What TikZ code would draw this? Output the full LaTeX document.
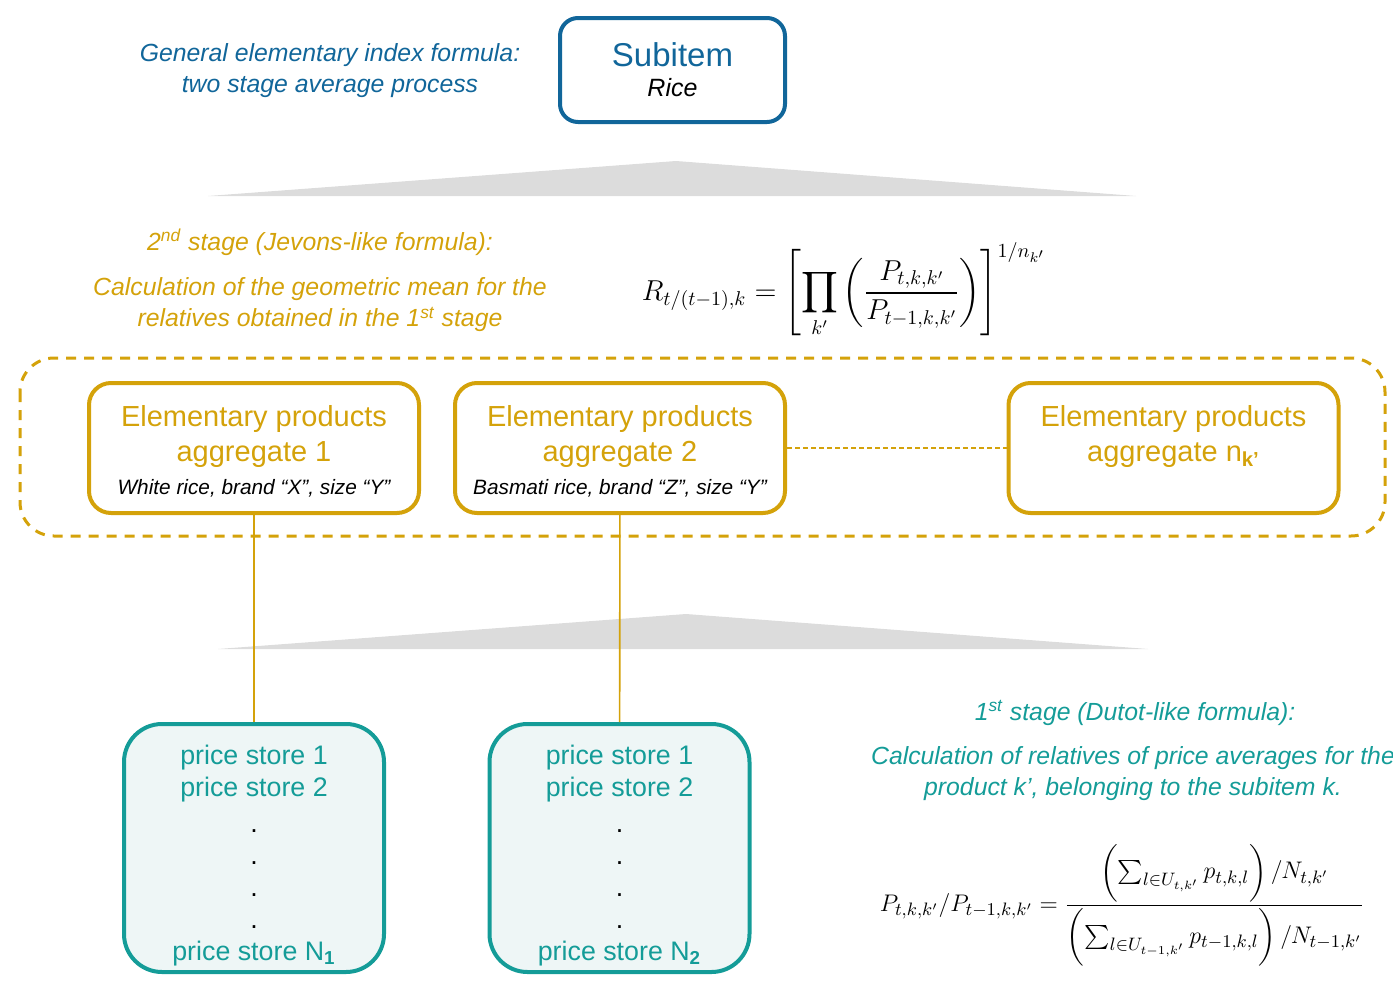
\documentclass[tikz,border=0pt]{standalone}
\usepackage[no-math]{fontspec}
\setmainfont{Liberation Sans}
\usepackage{amsmath}
\definecolor{subblue}{HTML}{11669A}
\definecolor{aggold}{HTML}{D4A20A}
\definecolor{storeteal}{HTML}{149C98}
\definecolor{storefill}{HTML}{EEF6F6}
\definecolor{wedgegray}{HTML}{DCDCDC}
\newcommand{\detailfont}{\fontsize{10.4}{12}\selectfont\itshape\color{black}}
\newcommand{\storedot}{\textcolor{black}{.}}
\tikzset{%
  subbox/.style   = {shape=rectangle, rounded corners=9pt, draw=subblue,%
                     line width=2pt, align=center, text=subblue,%
                     minimum width=112.5pt, minimum height=52pt},%
  aggbox/.style   = {shape=rectangle, rounded corners=11pt, draw=aggold,%
                     line width=2pt, align=center, text=aggold, inner sep=0pt,%
                     font=\fontsize{14.5}{17.5}\selectfont,%
                     minimum width=165pt, minimum height=65pt},%
  storebox/.style = {shape=rectangle, rounded corners=19pt, draw=storeteal,%
                     fill=storefill, line width=2pt, align=center,%
                     text=storeteal, font=\fontsize{13.4}{16}\selectfont,%
                     minimum width=130pt, minimum height=124pt},%
  note/.style     = {align=center, font=\fontsize{12.4}{15.5}\selectfont\itshape},%
  wedge/.style    = {fill=wedgegray},%
  link/.style     = {draw=aggold, line width=0.8pt}%
}

\begin{document}
\begin{tikzpicture}[x=0.5pt,y=-0.5pt,every node/.style={inner sep=2pt}]
\useasboundingbox (0,0) rectangle (1393,991);
\node[note, text=subblue] (title) at (330,71) {General elementary index formula:\\two stage average process};
\node[subbox] (subitem) at (672.5,70) {{\fontsize{16.5}{19}\selectfont Subitem}\\[3pt]{\fontsize{12.5}{15}\selectfont\itshape\color{black}Rice}};
\fill[wedge] (208,196) -- (676,161) -- (1136,196) -- cycle;
\node[note, text=aggold] (stagetwo) at (320,242) {2\textsuperscript{nd} stage (Jevons-like formula):};
\node[note, text=aggold] (stagetwotext) at (320,305) {Calculation of the geometric mean for the\\relatives obtained in the 1\textsuperscript{st} stage};
\node (jevons) at (844,290) {\fontsize{14.2}{17}\selectfont$\displaystyle R_{t/(t-1),k}=\left[\prod_{k'}\left(\frac{P_{t,k,k'}}{P_{t-1,k,k'}}\right)\right]^{1/n_{k'}}$};
\draw[aggold, line width=1.5pt, dash pattern=on 5pt off 4pt, rounded corners=17pt] (20,358) rectangle (1385,536);
\node[aggbox] (agg1) at (254,448) {\rule{0pt}{14pt}Elementary products\\aggregate 1\\[-1pt]{\detailfont White rice, brand “X”, size “Y”}};
\node[aggbox] (agg2) at (620,448) {\rule{0pt}{14pt}Elementary products\\aggregate 2\\[-1pt]{\detailfont Basmati rice, brand “Z”, size “Y”}};
\node[aggbox] (agg3) at (1173.5,448) {\rule{0pt}{14pt}Elementary products\\aggregate n\textsubscript{\textbf{k’}}\\[-1pt]{\detailfont\phantom{White rice, brand “X”}}};
\draw[aggold, line width=0.6pt, dash pattern=on 2.5pt off 1.5pt] (agg2) -- (agg3);
\fill[wedge] (218,649) -- (686,614) -- (1148,649) -- cycle;
\node[storebox] (store1) at (254,848) {\rule{0pt}{17pt}price store 1\\price store 2\\[2pt]\storedot\\\storedot\\\storedot\\\storedot\\price store N\textsubscript{\textbf{1}}};
\node[storebox] (store2) at (619.5,848) {\rule{0pt}{17pt}price store 1\\price store 2\\[2pt]\storedot\\\storedot\\\storedot\\\storedot\\price store N\textsubscript{\textbf{2}}};
\draw[link] (agg1) -- (store1);
\draw[link] (agg2) -- (store2);
\node[note, text=storeteal] (stageone) at (1135,713) {1\textsuperscript{st} stage (Dutot-like formula):};
\node[note, text=storeteal] (stageonetext) at (1133,774) {Calculation of relatives of price averages for the\\product k’, belonging to the subitem k.};
\node (dutot) at (1122,905) {\fontsize{12.8}{15}\selectfont$\displaystyle P_{t,k,k'}/P_{t-1,k,k'}=\frac{\biggl(\sum_{l\in U_{t,k'}}p_{t,k,l}\biggr)\,/N_{t,k'}}{\biggl(\sum_{l\in U_{t-1,k'}}p_{t-1,k,l}\biggr)\,/N_{t-1,k'}}$};
\end{tikzpicture}
\end{document}
